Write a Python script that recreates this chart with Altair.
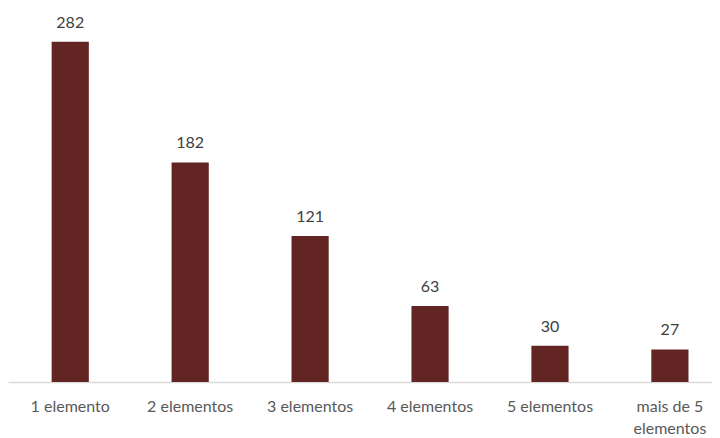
import altair as alt
import pandas as pd

categories = ["1 elemento", "2 elementos", "3 elementos", "4 elementos", "5 elementos", "mais de 5 elementos"]
values = [282, 182, 121, 63, 30, 27]

df = pd.DataFrame({"cat": categories, "val": values})

x = alt.X("cat:N", sort=categories, title=None,
          scale=alt.Scale(paddingInner=0.69, paddingOuter=0.28, align=0.65),
          axis=alt.Axis(labelAngle=0, labelFont="Lato", labelFontSize=16, labelColor="#595959",
                        labelPadding=16, labelLineHeight=22, ticks=False, domainColor="#d9d9d9", domainWidth=1.5,
                        labelLimit=200,
                        labelExpr="datum.label == 'mais de 5 elementos' ? ['mais de 5', 'elementos'] : datum.label"))
y = alt.Y("val:Q", scale=alt.Scale(domain=[0, 310], nice=False), axis=None)

bars = alt.Chart(df).mark_bar(color="#632523").encode(x=x, y=y)
text = alt.Chart(df).mark_text(baseline="bottom", dy=-11, font="Lato", fontSize=16, color="#404040").encode(
    x=alt.X("cat:N", sort=categories), y="val:Q", text="val:Q")

chart = (bars + text).properties(width=704, height=374, padding=0).configure_view(stroke=None)

chart.save("out.html", embed_options={"renderer": "svg", "actions": False})
